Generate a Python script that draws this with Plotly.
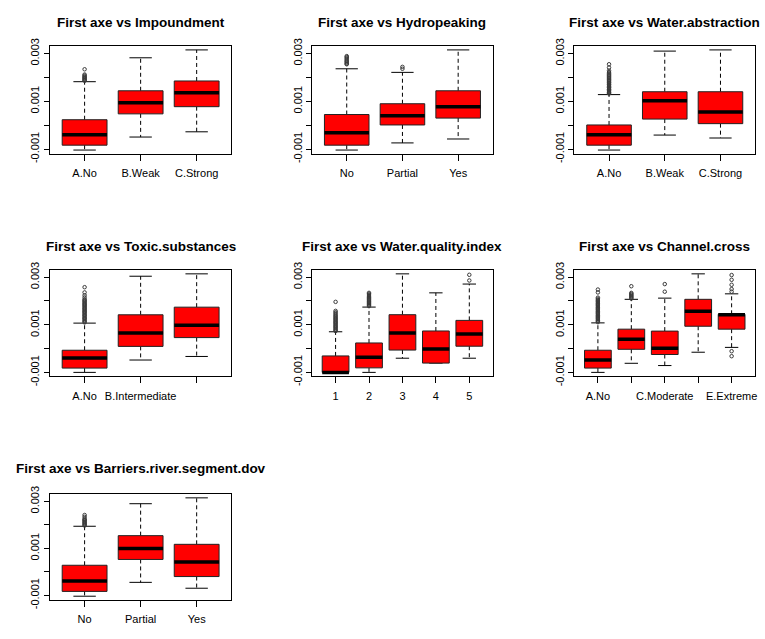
import plotly.graph_objects as go

# ---- First ordination axis summarised by pressure class --------------------
# Each panel: class names, shown tick labels, box statistics
# (lower whisker, Q1, median, Q3, upper whisker) and outlying values.

imp_title = "First axe vs Impoundment"
imp_cats = ["A.No", "B.Weak", "C.Strong"]
imp_labels = ["A.No", "B.Weak", "C.Strong"]
imp_lo = [-0.00104, -0.000495, -0.000276]
imp_q1 = [-0.000836, 0.000474, 0.000775]
imp_med = [-0.000399, 0.000939, 0.00136]
imp_q3 = [0.000229, 0.00144, 0.00185]
imp_hi = [0.00182, 0.00282, 0.00315]
imp_out = [[0.00186, 0.00188, 0.00191, 0.00195, 0.00197, 0.00201, 0.00204, 0.00208, 0.00212, 0.00234], [], []]

hyd_title = "First axe vs Hydropeaking"
hyd_cats = ["No", "Partial", "Yes"]
hyd_labels = ["No", "Partial", "Yes"]
hyd_lo = [-0.00104, -0.000741, -0.000577]
hyd_q1 = [-0.000836, 0.00001, 0.000297]
hyd_med = [-0.000317, 0.000392, 0.000775]
hyd_q3 = [0.000447, 0.000898, 0.00144]
hyd_hi = [0.00236, 0.00221, 0.00315]
hyd_out = [[0.00255, 0.00257, 0.00262, 0.00266, 0.0027, 0.00275, 0.0028, 0.00285, 0.00289], [0.00236, 0.00244], []]

wab_title = "First axe vs Water.abstraction"
wab_cats = ["A.No", "B.Weak", "C.Strong"]
wab_labels = ["A.No", "B.Weak", "C.Strong"]
wab_lo = [-0.00104, -0.000413, -0.000536]
wab_q1 = [-0.000836, 0.000256, 0.000065]
wab_med = [-0.0004, 0.00102, 0.000556]
wab_q3 = [0.00001, 0.0014, 0.0014]
wab_hi = [0.00128, 0.0031, 0.00315]
wab_out = [[0.00132, 0.00136, 0.00139, 0.00144, 0.00148, 0.00151, 0.00156, 0.00159, 0.00163,
            0.00168, 0.00171, 0.00176, 0.00179, 0.00184, 0.00188, 0.00191, 0.00196, 0.00199,
            0.00204, 0.00208, 0.00212, 0.00217, 0.00222, 0.00228, 0.00241, 0.00255], [], []]

tox_title = "First axe vs Toxic.substances"
tox_cats = ["A.No", "B.Intermediate", "C.High"]
tox_labels = ["A.No", "B.Intermediate", ""]
tox_lo = [-0.001, -0.000481, -0.000331]
tox_q1 = [-0.00082, 0.000092, 0.000461]
tox_med = [-0.0004, 0.00065, 0.00098]
tox_q3 = [-0.00007, 0.00142, 0.00174]
tox_hi = [0.00107, 0.00304, 0.00314]
tox_out = [[0.0011, 0.00114, 0.00118, 0.00123, 0.00127, 0.0013, 0.00135, 0.00139, 0.00142,
            0.00147, 0.00151, 0.00155, 0.00158, 0.00163, 0.00167, 0.0017, 0.00175, 0.00179,
            0.00183, 0.00187, 0.0019, 0.00195, 0.00199, 0.00203, 0.00207, 0.00215, 0.00224,
            0.00236, 0.00258], [], []]

wqi_title = "First axe vs Water.quality.index"
wqi_cats = ["1", "2", "3", "4", "5"]
wqi_labels = ["1", "2", "3", "4", "5"]
wqi_lo = [-0.00101, -0.00101, -0.000413, -0.000618, -0.000413]
wqi_q1 = [-0.00101, -0.00082, -0.00007, -0.000618, 0.000092]
wqi_med = [-0.00101, -0.00037, 0.00065, -0.00003, 0.00061]
wqi_q3 = [-0.000317, 0.000229, 0.00142, 0.000734, 0.00118]
wqi_hi = [0.0007, 0.00174, 0.00314, 0.00234, 0.00271]
wqi_out = [[0.00073, 0.00077, 0.00081, 0.00086, 0.0009, 0.00094, 0.00098, 0.00103, 0.00107,
            0.00111, 0.00115, 0.0012, 0.00124, 0.00128, 0.00133, 0.00137, 0.00142, 0.00147,
            0.00152, 0.00158, 0.00196],
           [0.00178, 0.00182, 0.00186, 0.0019, 0.00194, 0.00198, 0.00203, 0.00207, 0.00211,
            0.00215, 0.0022, 0.00225, 0.0023, 0.00234],
           [], [], [0.00286, 0.0031]]

chx_title = "First axe vs Channel.cross"
chx_cats = ["A.No", "B.Low", "C.Moderate", "D.High", "E.Extreme"]
chx_labels = ["A.No", "", "C.Moderate", "", "E.Extreme"]
chx_lo = [-0.001, -0.000618, -0.000713, -0.000153, 0.00005]
chx_q1 = [-0.00082, -0.00003, -0.000249, 0.000939, 0.000816]
chx_med = [-0.000481, 0.000393, 0.00001, 0.00157, 0.00142]
chx_q3 = [-0.00007, 0.000816, 0.000734, 0.00207, 0.00144]
chx_hi = [0.00108, 0.00207, 0.00212, 0.00314, 0.0023]
chx_out = [[0.00111, 0.00115, 0.00119, 0.00124, 0.00128, 0.00132, 0.00136, 0.0014, 0.00145,
            0.00149, 0.00153, 0.00157, 0.00162, 0.00166, 0.0017, 0.00174, 0.00179, 0.00183,
            0.00187, 0.00191, 0.00196, 0.002, 0.00204, 0.00209, 0.00214, 0.00236, 0.00248],
           [0.0021, 0.00214, 0.00218, 0.00222, 0.00226, 0.0023, 0.00234, 0.00262],
           [0.00239, 0.00271],
           [],
           [0.00239, 0.0025, 0.00268, 0.00289, 0.00309, -0.00011, -0.00032]]

bar_title = "First axe vs Barriers.river.segment.dov"
bar_cats = ["No", "Partial", "Yes"]
bar_labels = ["No", "Partial", "Yes"]
bar_lo = [-0.00104, -0.00045, -0.0007]
bar_q1 = [-0.000835, 0.000526, -0.000203]
bar_med = [-0.000395, 0.000993, 0.000416]
bar_q3 = [0.000278, 0.00154, 0.00117]
bar_hi = [0.00194, 0.0029, 0.00315]
bar_out = [[0.00197, 0.002, 0.00204, 0.00208, 0.00211, 0.00215, 0.00219, 0.00222, 0.00226,
            0.00234, 0.00242], [], []]

y_tick_vals = [-0.001, 0.0, 0.001, 0.002, 0.003]
y_tick_text = ["-0.001", "", "0.001", "", "0.003"]

panels = [
    (imp_title, imp_cats, imp_labels, imp_lo, imp_q1, imp_med, imp_q3, imp_hi, imp_out),
    (hyd_title, hyd_cats, hyd_labels, hyd_lo, hyd_q1, hyd_med, hyd_q3, hyd_hi, hyd_out),
    (wab_title, wab_cats, wab_labels, wab_lo, wab_q1, wab_med, wab_q3, wab_hi, wab_out),
    (tox_title, tox_cats, tox_labels, tox_lo, tox_q1, tox_med, tox_q3, tox_hi, tox_out),
    (wqi_title, wqi_cats, wqi_labels, wqi_lo, wqi_q1, wqi_med, wqi_q3, wqi_hi, wqi_out),
    (chx_title, chx_cats, chx_labels, chx_lo, chx_q1, chx_med, chx_q3, chx_hi, chx_out),
    (bar_title, bar_cats, bar_labels, bar_lo, bar_q1, bar_med, bar_q3, bar_hi, bar_out),
]

# ---- page geometry (fractions of the 765 x 639 page) ----------------------
W, H = 765, 639
col_px = [(50, 232), (313, 494), (576, 757)]
row_px = [(39, 150.3), (269.5, 379), (500, 609.3)]
title_px = [15, 245, 474]

FONT = "Liberation Sans, Arial, Helvetica, sans-serif"
BOX_W = 0.8  # relative box width, as in base R boxplot

fig = go.Figure()
layout_axes = {}
annotations = []

for i, (title, cats, labels, lo, q1, med, q3, hi, outs) in enumerate(panels):
    r, c = divmod(i, 3)
    n = len(cats)
    pos = list(range(1, n + 1))
    sfx = "" if i == 0 else str(i + 1)
    xa, ya = "x" + sfx, "y" + sfx
    half = BOX_W / 2

    # dashed whiskers
    wx, wy = [], []
    for p, a, b, cq, d in zip(pos, lo, q1, q3, hi):
        wx += [p, p, None, p, p, None]
        wy += [cq, d, None, b, a, None]
    fig.add_trace(go.Scatter(x=wx, y=wy, mode="lines", xaxis=xa, yaxis=ya,
                             line=dict(color="black", width=1, dash="4px,3px"),
                             hoverinfo="skip", showlegend=False))
    # whisker staples
    sx, sy = [], []
    for p, a, d in zip(pos, lo, hi):
        sx += [p - half / 2, p + half / 2, None, p - half / 2, p + half / 2, None]
        sy += [d, d, None, a, a, None]
    fig.add_trace(go.Scatter(x=sx, y=sy, mode="lines", xaxis=xa, yaxis=ya,
                             line=dict(color="black", width=1),
                             hoverinfo="skip", showlegend=False))
    # boxes
    bx, by = [], []
    for p, b, cq in zip(pos, q1, q3):
        bx += [p - half, p + half, p + half, p - half, p - half, None]
        by += [b, b, cq, cq, b, None]
    fig.add_trace(go.Scatter(x=bx, y=by, mode="lines", fill="toself", fillcolor="#FF0000",
                             xaxis=xa, yaxis=ya, line=dict(color="#222222", width=1),
                             hoverinfo="skip", showlegend=False))
    # medians
    mx, my = [], []
    for p, m in zip(pos, med):
        mx += [p - half, p + half, None]
        my += [m, m, None]
    fig.add_trace(go.Scatter(x=mx, y=my, mode="lines", xaxis=xa, yaxis=ya,
                             line=dict(color="black", width=3.5),
                             hoverinfo="skip", showlegend=False))
    # outliers
    ox, oy = [], []
    for p, vals in zip(pos, outs):
        ox += [p] * len(vals)
        oy += vals
    fig.add_trace(go.Scatter(x=ox, y=oy, mode="markers", xaxis=xa, yaxis=ya,
                             marker=dict(symbol="circle-open", size=3.5, color="#3a3a3a",
                                         line=dict(width=1)),
                             hoverinfo="skip", showlegend=False))

    # axis ranges as in R: data range extended by 4 % on each side
    allv = lo + hi + [v for vals in outs for v in vals]
    ymin, ymax = min(allv), max(allv)
    pad = 0.04 * (ymax - ymin)
    xpad = 0.04 * n

    x0, x1 = col_px[c]
    y0, y1 = row_px[r]
    layout_axes["xaxis" + sfx] = dict(
        domain=[x0 / W, x1 / W], anchor=ya, range=[0.5 - xpad, n + 0.5 + xpad],
        tickmode="array", tickvals=pos, ticktext=labels, ticks="outside", ticklen=6,
        tickcolor="black", showgrid=False, zeroline=False, showline=True,
        linecolor="black", linewidth=1, mirror=True, ticklabelstandoff=3,
        tickfont=dict(family=FONT, size=11, color="black"), fixedrange=True)
    layout_axes["yaxis" + sfx] = dict(
        domain=[1 - y1 / H, 1 - y0 / H], anchor=xa, range=[ymin - pad, ymax + pad],
        tickmode="array", tickvals=y_tick_vals, ticktext=y_tick_text, tickangle=-90,
        ticks="outside", ticklen=5, tickcolor="black", showgrid=False, zeroline=False,
        showline=True, linecolor="black", linewidth=1, mirror=True,
        tickfont=dict(family=FONT, size=11, color="black"), fixedrange=True)

    annotations.append(dict(
        text="<b>" + title + "</b>", x=(x0 + x1) / 2 / W, y=1 - title_px[r] / H,
        xref="paper", yref="paper", xanchor="center", yanchor="middle", showarrow=False,
        font=dict(family=FONT, size=13.5, color="black")))

fig.update_layout(
    width=W, height=H, margin=dict(l=0, r=0, t=0, b=0),
    paper_bgcolor="white", plot_bgcolor="white", showlegend=False,
    annotations=annotations, **layout_axes)

fig.write_html("out.html")
